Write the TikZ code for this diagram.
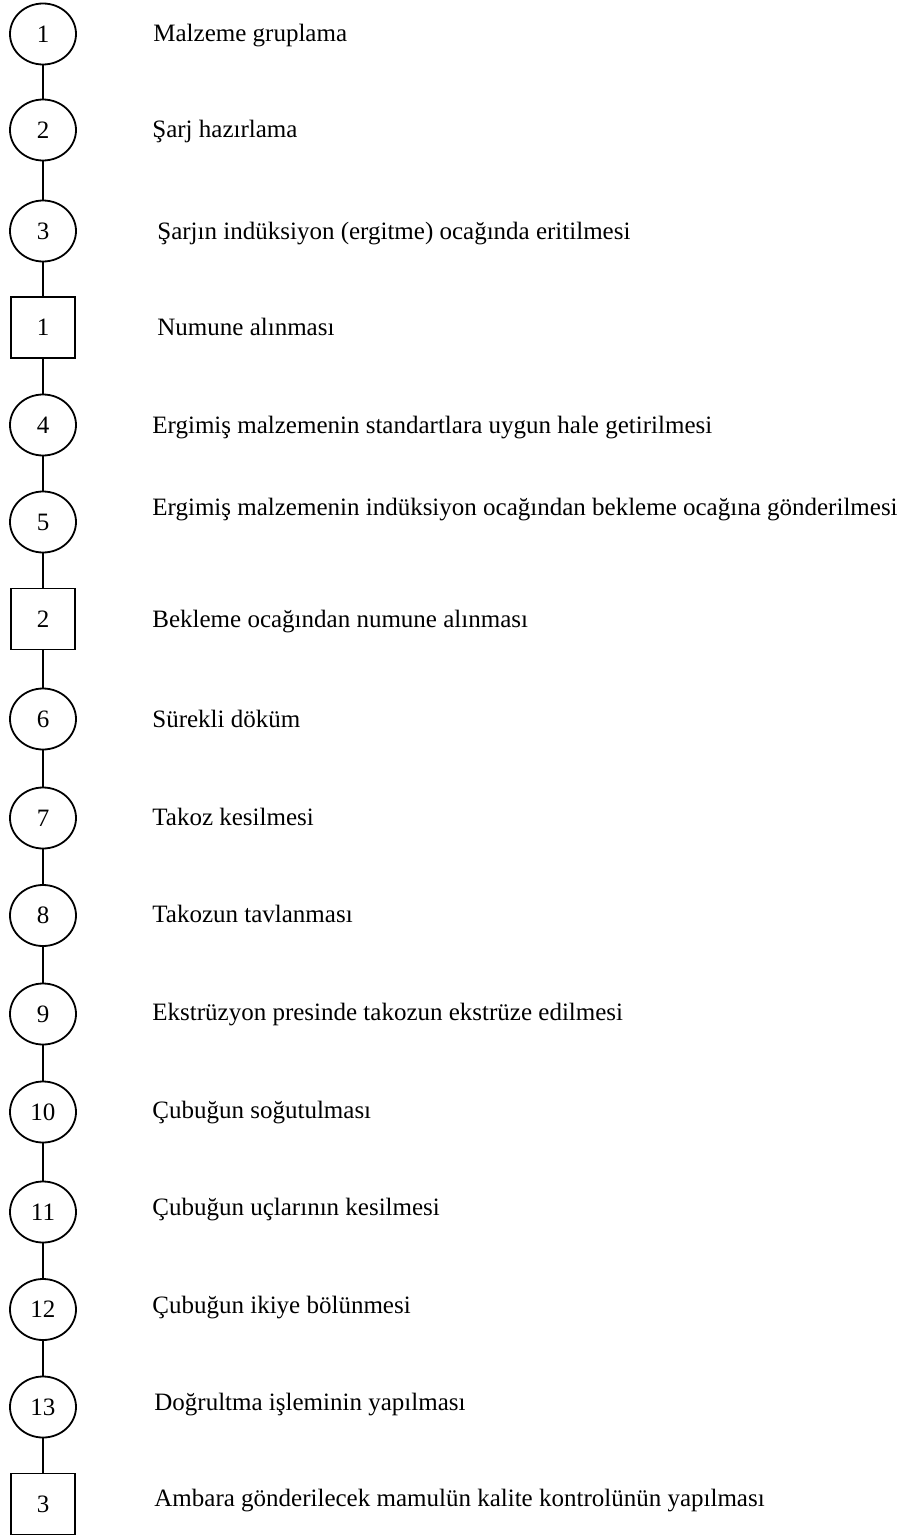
\documentclass[tikz,border=0pt]{standalone}
\usepackage{fontspec}
\setmainfont{Liberation Serif}
\usetikzlibrary{shapes.geometric}
\begin{document}
\begin{tikzpicture}[x=0.5pt,y=-0.5pt,
  op/.style={draw,line width=0.9pt,ellipse,inner sep=0pt,minimum width=33pt,minimum height=30.5pt,font=\fontsize{12.5pt}{14pt}\selectfont},
  insp/.style={draw,line width=0.9pt,rectangle,inner sep=0pt,minimum width=32pt,minimum height=30.5pt,font=\fontsize{12.5pt}{14pt}\selectfont},
  lbl/.style={anchor=base west,inner sep=0pt,font=\fontsize{12.5pt}{14pt}\selectfont},
  link/.style={line width=0.9pt}]
\useasboundingbox (0,0) rectangle (904,1536);
\node[op]   (s1)  at (43,34)    {1};
\node[op]   (s2)  at (43,130)   {2};
\node[op]   (s3)  at (43,231)   {3};
\node[insp] (k1)  at (43,327.5) {1};
\node[op]   (s4)  at (43,425)   {4};
\node[op]   (s5)  at (43,522)   {5};
\node[insp] (k2)  at (43,619)   {2};
\node[op]   (s6)  at (43,719)   {6};
\node[op]   (s7)  at (43,818)   {7};
\node[op]   (s8)  at (43,915.5) {8};
\node[op]   (s9)  at (43,1014)  {9};
\node[op]   (s10) at (43,1112)  {10};
\node[op]   (s11) at (43,1212)  {11};
\node[op]   (s12) at (43,1309.5){12};
\node[op]   (s13) at (43,1407)  {13};
\node[insp] (k3)  at (43,1504)  {3};
\draw[link] (s1)--(s2) (s2)--(s3) (s3)--(k1) (k1)--(s4) (s4)--(s5) (s5)--(k2) (k2)--(s6) (s6)--(s7) (s7)--(s8) (s8)--(s9) (s9)--(s10) (s10)--(s11) (s11)--(s12) (s12)--(s13) (s13)--(k3);
\node[lbl] (t1)  at (153,42)    {Malzeme gruplama};
\node[lbl] (t2)  at (152,138)   {Şarj hazırlama};
\node[lbl] (t3)  at (157,239)   {Şarjın indüksiyon (ergitme) ocağında eritilmesi};
\node[lbl] (t4)  at (157,335)   {Numune alınması};
\node[lbl] (t5)  at (152,433)   {Ergimiş malzemenin standartlara uygun hale getirilmesi};
\node[lbl] (t6)  at (152,515)   {Ergimiş malzemenin indüksiyon ocağından bekleme ocağına gönderilmesi};
\node[lbl] (t7)  at (152,627)   {Bekleme ocağından numune alınması};
\node[lbl] (t8)  at (152,727)   {Sürekli döküm};
\node[lbl] (t9)  at (152,825)   {Takoz kesilmesi};
\node[lbl] (t10) at (152,922)   {Takozun tavlanması};
\node[lbl] (t11) at (152,1020)  {Ekstrüzyon presinde takozun ekstrüze edilmesi};
\node[lbl] (t12) at (152,1118)  {Çubuğun soğutulması};
\node[lbl] (t13) at (152,1215)  {Çubuğun uçlarının kesilmesi};
\node[lbl] (t14) at (152,1313)  {Çubuğun ikiye bölünmesi};
\node[lbl] (t15) at (154,1410)  {Doğrultma işleminin yapılması};
\node[lbl] (t16) at (154,1506)  {Ambara gönderilecek mamulün kalite kontrolünün yapılması};
\end{tikzpicture}
\end{document}
